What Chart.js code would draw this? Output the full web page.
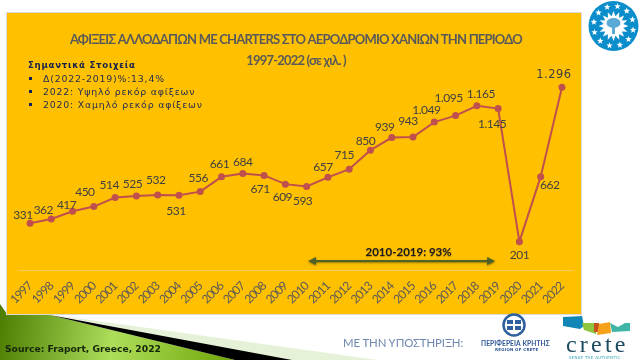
<!DOCTYPE html>
<html>
<head>
<meta charset="utf-8">
<style>
  html, body { margin: 0; padding: 0; background: #fff; }
  #wrap { position: relative; width: 640px; height: 360px; overflow: hidden; }
  #wrap div { position: absolute; white-space: nowrap; }
  .note { font-family: "DejaVu Sans"; font-size: 9.4px; letter-spacing: 0.8px; color: #1f2a55; left: 43px; }
  .sq { width: 3px; height: 3px; background: #10205a; left: 29px; }
</style>
<script src="https://cdn.jsdelivr.net/npm/chart.js@4"></script>
</head>
<body>
<div id="wrap">
  <canvas id="lineChart" width="640" height="360"></canvas>
  <div style="left:28px;top:60px;font:bold 8.6px 'DejaVu Sans';letter-spacing:.75px;color:#14204d">Σημαντικά Στοιχεία</div>
  <div class="sq" style="top:77px"></div><div class="note" style="top:73px">Δ(2022-2019)%:13,4%</div>
  <div class="sq" style="top:90px"></div><div class="note" style="top:86px">2022: Υψηλό ρεκόρ αφίξεων</div>
  <div class="sq" style="top:103px"></div><div class="note" style="top:99px">2020: Χαμηλό ρεκόρ αφίξεων</div>
  <div style="left:5px;top:343px;font:bold 9.2px 'DejaVu Sans';color:#15260a">Source: Fraport, Greece, 2022</div>
  <div style="left:343px;top:336px;font:11.4px 'Lato';letter-spacing:-.1px;color:#6d87ad">ΜΕ ΤΗΝ ΥΠΟΣΤΗΡΙΞΗ:</div>
  <div style="left:481px;top:339px;font:bold 6.6px 'Lato';letter-spacing:.1px;color:#2e5597">ΠΕΡΙΦΕΡΕΙΑ ΚΡΗΤΗΣ</div>
  <div style="left:495px;top:347px;font:bold 4px 'DejaVu Sans';letter-spacing:.2px;color:#2e5597">REGION OF CRETE</div>
  <div style="left:566px;top:331px;font:24px 'Liberation Serif';letter-spacing:3.2px;color:#1c4a60">crete</div>
  <div style="left:569px;top:355px;font:4px 'DejaVu Sans';letter-spacing:.25px;color:#35a7b5">SENSE THE AUTHENTIC</div>
</div>
<script>
var years = ["1997", "1998", "1999", "2000", "2001", "2002", "2003", "2004", "2005", "2006", "2007", "2008", "2009",
  "2010", "2011", "2012", "2013", "2014", "2015", "2016", "2017", "2018", "2019", "2020", "2021", "2022"];
var arrivals = [331, 362, 417, 450, 514, 525, 532, 531, 556, 661, 684, 671, 609,
  593, 657, 715, 850, 939, 943, 1049, 1095, 1165, 1145, 201, 662, 1296];
var titleLines = ["ΑΦΙΞΕΙΣ ΑΛΛΟΔΑΠΩΝ ΜΕ CHARTERS ΣΤΟ ΑΕΡΟΔΡΟΜΙΟ ΧΑΝΙΩΝ ΤΗΝ ΠΕΡΙΟΔΟ", "1997-2022 (σε χιλ. )"];
var growthLabel = "2010-2019: 93%";

// hand placed label nudges, same order as years
var labelNudge = [[-7, -8], [-8, -9], [-6, -6], [-9, -14], [-6, -12], [-4, -12], [-2, -15], [-3, 16], [-2, -13],
  [-2, -13], [0, -11], [-4, 14], [-3, 13], [-4, 15], [-5, -10], [-5, -14], [-5, -9], [-7, -10], [-5, -16],
  [-8, -12], [-7, -17], [4, -12], [-6, 16], [0, 13], [9, 8], [-8, -12]];

function formatValue(v) {
  var s = String(v);
  return s.length > 3 ? s.slice(0, -3) + "." + s.slice(-3) : s;
}

function star(ctx, x, y, r) {
  ctx.beginPath();
  for (var i = 0; i < 10; i++) {
    var a = -Math.PI / 2 + i * Math.PI / 5;
    var d = i % 2 ? r * 0.42 : r;
    ctx.lineTo(x + Math.cos(a) * d, y + Math.sin(a) * d);
  }
  ctx.closePath();
  ctx.fill();
}

function poly(ctx, color, pts) {
  ctx.fillStyle = color;
  ctx.beginPath();
  pts.forEach(function (p) { ctx.lineTo(p[0], p[1]); });
  ctx.closePath();
  ctx.fill();
}

function drawLogos(ctx) {
  // blue disc with stars and tree
  var cx = 613.5, cy = 26;
  ctx.fillStyle = "#0b8dcb";
  ctx.beginPath(); ctx.arc(cx, cy, 25, 0, Math.PI * 2); ctx.fill();
  ctx.fillStyle = "#fff";
  for (var i = 0; i < 12; i++) {
    var a = i * Math.PI / 6 + 0.2;
    star(ctx, cx + Math.cos(a) * 20, cy + Math.sin(a) * 20, 3.4);
  }
  ctx.beginPath();
  for (var j = 0; j < 32; j++) {
    var b = j * Math.PI / 16;
    var d = j % 2 ? 10 : 15;
    ctx.lineTo(cx + Math.cos(b) * d, cy + Math.sin(b) * d);
  }
  ctx.closePath(); ctx.fill();
  ctx.fillStyle = "#5aa9d6";
  ctx.beginPath(); ctx.ellipse(cx, cy - 3, 7, 5, 0, 0, Math.PI * 2); ctx.fill();
  ctx.fillRect(cx - 1.5, cy, 3, 8);

  // region emblem
  ctx.strokeStyle = "#2e5f9f";
  ctx.lineWidth = 2.5;
  ctx.beginPath(); ctx.arc(514, 325, 10.5, 0, Math.PI * 2); ctx.stroke();
  ctx.fillStyle = "#2e5f9f";
  ctx.fillRect(507, 320, 6, 4); ctx.fillRect(515, 320, 6, 4);
  ctx.fillRect(507, 326, 6, 4); ctx.fillRect(515, 326, 6, 4);

  // crete island mark
  poly(ctx, "#1187b8", [[563, 317], [582, 316], [584, 326], [580, 329], [563, 326]]);
  poly(ctx, "#8cc63f", [[582, 323], [596, 323], [596, 334], [584, 330]]);
  poly(ctx, "#c8501e", [[594, 323], [599, 323], [599, 332], [594, 332]]);
  poly(ctx, "#f7a11a", [[599, 324], [610, 322], [611, 333], [597, 335]]);
  poly(ctx, "#3fb5a8", [[610, 323], [618, 327], [625, 323], [630, 323], [630, 331], [612, 332]]);
}

var backgroundPlugin = {
  id: "slideBackground",
  beforeDraw: function (chart) {
    var ctx = chart.ctx;
    ctx.save();
    ctx.fillStyle = "#fff";
    ctx.fillRect(0, 0, 640, 360);
    poly(ctx, "#e6f2d8", [[54, 315], [378, 360], [285, 360]]);
    var g = ctx.createLinearGradient(0, 310, 230, 345);
    g.addColorStop(0, "#4c7d02");
    g.addColorStop(0.5, "#aede5a");
    g.addColorStop(1, "#72a80c");
    poly(ctx, g, [[0, 304], [7, 314], [50, 315], [235, 360], [0, 360]]);
    poly(ctx, "#000", [[50, 315], [292, 360], [235, 360]]);
    ctx.fillStyle = "#ffc000";
    ctx.fillRect(7, 13, 574, 301);
    ctx.strokeStyle = "#d9d9d9";
    ctx.lineWidth = 1;
    ctx.strokeRect(6.5, 12.5, 575, 302);
    drawLogos(ctx);
    ctx.restore();
    // Lato is wider than the original font, tighten title and ticks
    ctx.letterSpacing = "-0.8px";
  }
};

var labelsPlugin = {
  id: "pointLabels",
  afterDatasetsDraw: function (chart) {
    var ctx = chart.ctx;
    var pts = chart.getDatasetMeta(0).data;
    var xs = chart.scales.x, ys = chart.scales.y;
    ctx.save();
    ctx.textAlign = "center";
    ctx.textBaseline = "middle";
    pts.forEach(function (p, i) {
      var last = i === pts.length - 1;
      ctx.font = last ? "11.5px 'DejaVu Sans'" : "12px Lato";
      ctx.letterSpacing = last ? "0.5px" : "-0.5px";
      ctx.fillStyle = "#404040";
      ctx.fillText(formatValue(arrivals[i]), p.x + labelNudge[i][0], p.y + labelNudge[i][1]);
    });
    ctx.letterSpacing = "0px";

    // 2010-2019 arrow
    var x0 = xs.getPixelForValue(13) + 1.4, x1 = xs.getPixelForValue(22) - 3, y = ys.getPixelForValue(64);
    ctx.shadowColor = "rgba(70,70,0,0.6)";
    ctx.shadowBlur = 2;
    ctx.shadowOffsetY = 1;
    ctx.strokeStyle = "#4f6228";
    ctx.lineWidth = 2;
    ctx.beginPath(); ctx.moveTo(x0 + 4, y); ctx.lineTo(x1 - 4, y); ctx.stroke();
    poly(ctx, "#4f6228", [[x0, y], [x0 + 8, y - 4], [x0 + 8, y + 4]]);
    poly(ctx, "#4f6228", [[x1, y], [x1 - 8, y - 4], [x1 - 8, y + 4]]);
    ctx.shadowColor = "rgba(120,90,0,0.5)";
    ctx.shadowBlur = 1;
    ctx.fillStyle = "#1a1a1a";
    ctx.font = "bold 11.5px Lato";
    ctx.fillText(growthLabel, (x0 + x1) / 2 + 7, y - 9);
    ctx.restore();
  }
};

var chart = new Chart(document.getElementById("lineChart"), {
  type: "line",
  data: {
    labels: years,
    datasets: [
      {
        label: "Αφίξεις",
        data: arrivals,
        borderColor: "#c0504d",
        backgroundColor: "#c0504d",
        borderWidth: 2,
        pointRadius: 2.5,
        pointHoverRadius: 2.5,
        tension: 0,
      },
    ],
  },
  options: {
    responsive: false,
    animation: false,
    layout: { padding: { left: 19.4, right: 67.4, top: 0, bottom: 54 } },
    plugins: {
      legend: { display: false },
      tooltip: { enabled: false },
      title: {
        display: true,
        fullSize: false,
        text: titleLines,
        color: "#595959",
        font: { family: "Lato", size: 13, weight: "bold", lineHeight: 1.62 },
        padding: { top: 29.5, bottom: 1 },
      },
    },
    scales: {
      x: {
        offset: true,
        afterFit: function (scale) { scale.height = 36; },
        grid: { display: false, drawTicks: false },
        border: { color: "#f0d060", width: 1 },
        ticks: {
          autoSkip: false,
          minRotation: 45,
          maxRotation: 45,
          padding: 9,
          color: "#595959",
          font: { family: "Lato", size: 12 },
        },
      },
      y: { display: false, min: 0, max: 1400 },
    },
  },
  plugins: [backgroundPlugin, labelsPlugin],
});
</script>
</body>
</html>
